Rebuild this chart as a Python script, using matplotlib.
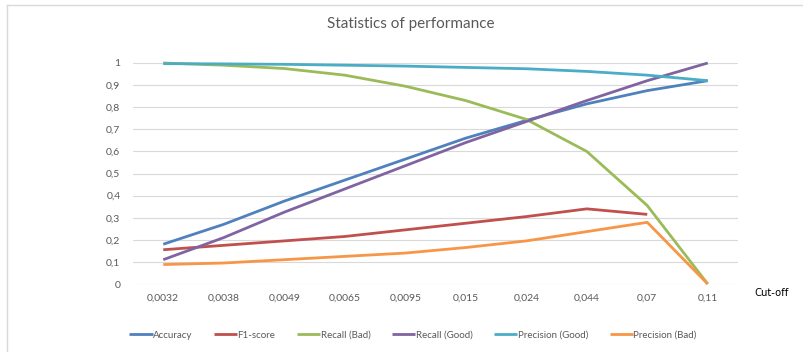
import matplotlib.pyplot as plt
from matplotlib.lines import Line2D

# cut-off values on the x axis
cutoffs = ['0,0032', '0,0038', '0,0049', '0,0065', '0,0095', '0,015', '0,024', '0,044', '0,07', '0,11']

accuracy = [0.18, 0.27, 0.375, 0.47, 0.565, 0.66, 0.74, 0.815, 0.875, 0.92]
f1_score = [0.155, 0.175, 0.195, 0.215, 0.245, 0.275, 0.305, 0.34, 0.315]
recall_bad = [1.0, 0.99, 0.975, 0.945, 0.895, 0.83, 0.745, 0.60, 0.355, 0.0]
recall_good = [0.11, 0.21, 0.325, 0.43, 0.535, 0.64, 0.735, 0.83, 0.92, 1.0]
precision_good = [0.997, 0.996, 0.994, 0.99, 0.986, 0.98, 0.974, 0.962, 0.945, 0.92]
precision_bad = [0.088, 0.095, 0.11, 0.125, 0.14, 0.165, 0.195, 0.237, 0.279, 0.0]

series = [
    ('Accuracy', accuracy, '#4F81BD'),
    ('F1-score', f1_score, '#C0504D'),
    ('Recall (Bad)', recall_bad, '#9BBB59'),
    ('Recall (Good)', recall_good, '#8064A2'),
    ('Precision (Good)', precision_good, '#4BACC6'),
    ('Precision (Bad)', precision_bad, '#F79646'),
]

plt.rcParams['font.family'] = ['Lato', 'DejaVu Sans']

fig = plt.figure(figsize=(8.04, 3.52), dpi=100)
W, H = 804, 352
ax = fig.add_axes([133 / W, 1 - 284 / H, (738 - 133) / W, (284 - 63) / H])

for name, vals, col in series:
    ax.plot(range(len(vals)), vals, color=col, lw=2.0, label=name,
            clip_on=False, solid_capstyle='butt', zorder=3)

ax.set_xlim(-0.5, len(cutoffs) - 0.5)
ax.set_ylim(0, 1)
ax.set_yticks([i / 10 for i in range(11)])
ax.set_yticklabels(['0'] + ['0,%d' % i for i in range(1, 10)] + ['1'])
ax.set_xticks(range(len(cutoffs)))
ax.set_xticklabels(cutoffs)
ax.tick_params(length=0, labelsize=7.5, labelcolor='#595959', pad=9)
ax.tick_params(axis='x', pad=7)
ax.grid(axis='y', color='#D9D9D9', lw=0.8)
ax.set_axisbelow(True)
for s in ax.spines.values():
    s.set_visible(False)

fig.text(411 / W, 1 - 24 / H, 'Statistics of performance', ha='center', va='center',
         fontsize=11, color='#595959')
fig.text(754 / W, 1 - 293 / H, 'Cut-off', ha='left', va='center', fontsize=8,
         family='DejaVu Sans', stretch='condensed', color='#000000')

fig.legend(loc='center', bbox_to_anchor=(413 / W, 1 - 335 / H), ncol=6, frameon=False,
           fontsize=7, handlelength=2.4, handletextpad=0.05, columnspacing=2.2,
           labelcolor='#595959')

# light border of the chart area (top and left)
fig.add_artist(Line2D([7 / W, 1], [1 - 4.5 / H, 1 - 4.5 / H], transform=fig.transFigure,
                      color='#D9D9D9', lw=1))
fig.add_artist(Line2D([7 / W, 7 / W], [0, 1 - 4.5 / H], transform=fig.transFigure,
                      color='#D9D9D9', lw=1))

fig.savefig('out.png', dpi=100)
